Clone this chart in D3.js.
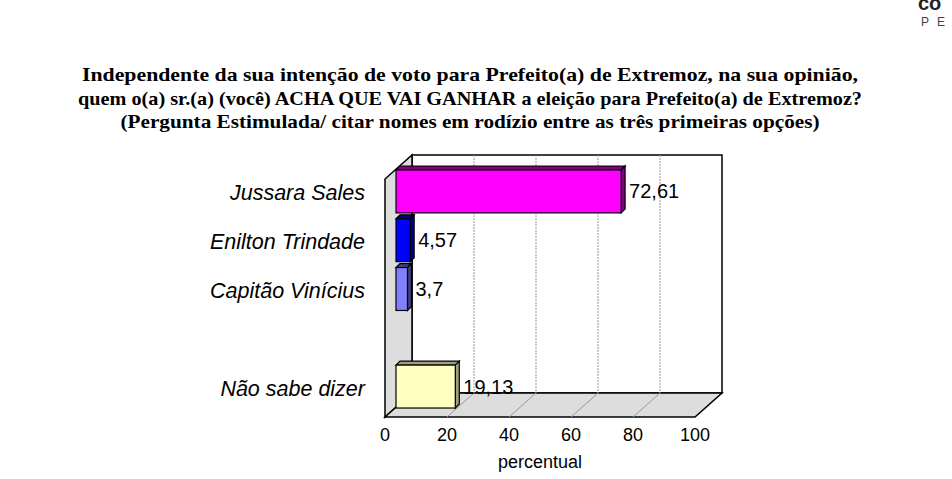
<!DOCTYPE html>
<html><head><meta charset="utf-8">
<script src="https://cdn.jsdelivr.net/npm/d3@7"></script>
<style>body{margin:0;background:#fff}</style></head>
<body><svg width="952" height="479"></svg>
<script>
const categories = ["Jussara Sales", "Enilton Trindade", "Capitão Vinícius", "", "Não sabe dizer"];
const values = [72.61, 4.57, 3.7, null, 19.13];
const labels = ["72,61", "4,57", "3,7", "", "19,13"];
const colors = ["#ff00ff", "#0000ff", "#8080ff", "none", "#ffffc0"];
const sideColors = ["#800080", "#000080", "#404080", "none", "#a0a080"];
const ticks = [0, 20, 40, 60, 80, 100];
const titleLines = [
  "Independente da sua intenção de voto para Prefeito(a) de Extremoz, na sua opinião,",
  "quem o(a) sr.(a) (você) ACHA QUE VAI GANHAR a eleição para Prefeito(a) de Extremoz?",
  "(Pergunta Estimulada/ citar nomes em rodízio entre as três primeiras opções)"
];
const titleWidths = [776, 784, 699];

const svg = d3.select("svg");
const DX = 27, DY = -24;
const x = d3.scaleLinear().domain([0, 100]).range([385, 695]);
const yTop = 179, yBot = 417;
const y = d3.scaleBand().domain(d3.range(categories.length)).range([169, 409]).paddingInner(0.12).paddingOuter(0.02);

svg.selectAll("text.title").data(titleLines).join("text")
  .attr("x", 470).attr("y", (d, i) => 81 + i * 23.5)
  .attr("text-anchor", "middle").attr("font-family", "Liberation Serif, serif")
  .attr("font-weight", "bold").attr("font-size", 19)
  .attr("textLength", (d, i) => titleWidths[i]).attr("lengthAdjust", "spacingAndGlyphs")
  .text(d => d);

// logo fragment
svg.append("text").attr("x", 918).attr("y", 10).attr("font-family", "Arial").attr("font-weight", "bold")
  .attr("font-size", 20).attr("fill", "#222").text("co");
svg.append("text").attr("x", 921).attr("y", 26).attr("font-family", "Arial")
  .attr("font-size", 12).attr("letter-spacing", 8).attr("fill", "#444").text("PE");

const g = svg.append("g").attr("stroke", "#000");
// back wall
g.append("rect").attr("x", x(0) + DX).attr("y", yTop + DY).attr("width", x(100) - x(0)).attr("height", yBot - yTop)
  .attr("fill", "#fff").attr("stroke-width", 1.5);
// side wall
g.append("polygon").attr("fill", "#ddd").attr("stroke-width", 1.5)
  .attr("points", [[x(0), yBot], [x(0), yTop], [x(0) + DX, yTop + DY], [x(0) + DX, yBot + DY]].join(" "));
// floor
g.append("polygon").attr("fill", "#ddd").attr("stroke-width", 1.5)
  .attr("points", [[x(0), yBot], [x(100), yBot], [x(100) + DX, yBot + DY], [x(0) + DX, yBot + DY]].join(" "));
// grid
ticks.slice(1, -1).forEach(t => {
  g.append("line").attr("x1", x(t) + DX).attr("x2", x(t) + DX).attr("y1", yTop + DY).attr("y2", yBot + DY)
    .attr("stroke", "#999").attr("stroke-dasharray", "2,1");
  g.append("line").attr("x1", x(t)).attr("x2", x(t) + DX).attr("y1", yBot).attr("y2", yBot + DY)
    .attr("stroke", "#999");
});

// bars
const bx = d3.scaleLinear().domain([0, 100]).range([396, 706]);
const bd = 4;
values.forEach((v, i) => {
  if (v == null) return;
  const y0 = y(i), h = y.bandwidth(), x1 = bx(v);
  const bg = svg.append("g").attr("stroke", "#000").attr("stroke-width", 1.2);
  bg.append("polygon").attr("fill", sideColors[i])
    .attr("points", [[bx(0), y0], [bx(0) + bd, y0 - bd], [x1 + bd, y0 - bd], [x1, y0]].join(" "));
  bg.append("polygon").attr("fill", sideColors[i])
    .attr("points", [[x1, y0], [x1 + bd, y0 - bd], [x1 + bd, y0 + h - bd], [x1, y0 + h]].join(" "));
  bg.append("rect").attr("x", bx(0)).attr("y", y0).attr("width", x1 - bx(0)).attr("height", h).attr("fill", colors[i]);
  svg.append("text").attr("x", x1 + 8).attr("y", y0 + h / 2 + 7).attr("font-family", "Arial")
    .attr("font-size", 20).text(labels[i]);
  svg.append("text").attr("x", 365).attr("y", y0 + h / 2 + 9).attr("text-anchor", "end")
    .attr("font-family", "Arial").attr("font-style", "italic").attr("font-size", 21.5)
    .text(categories[i]);
});

svg.selectAll("text.tick").data(ticks).join("text")
  .attr("x", d => x(d)).attr("y", 441).attr("text-anchor", "middle")
  .attr("font-family", "Arial").attr("font-size", 18).text(d => d);
svg.append("text").attr("x", 540).attr("y", 468).attr("text-anchor", "middle")
  .attr("font-family", "Arial").attr("font-size", 18).text("percentual");
</script></body></html>
